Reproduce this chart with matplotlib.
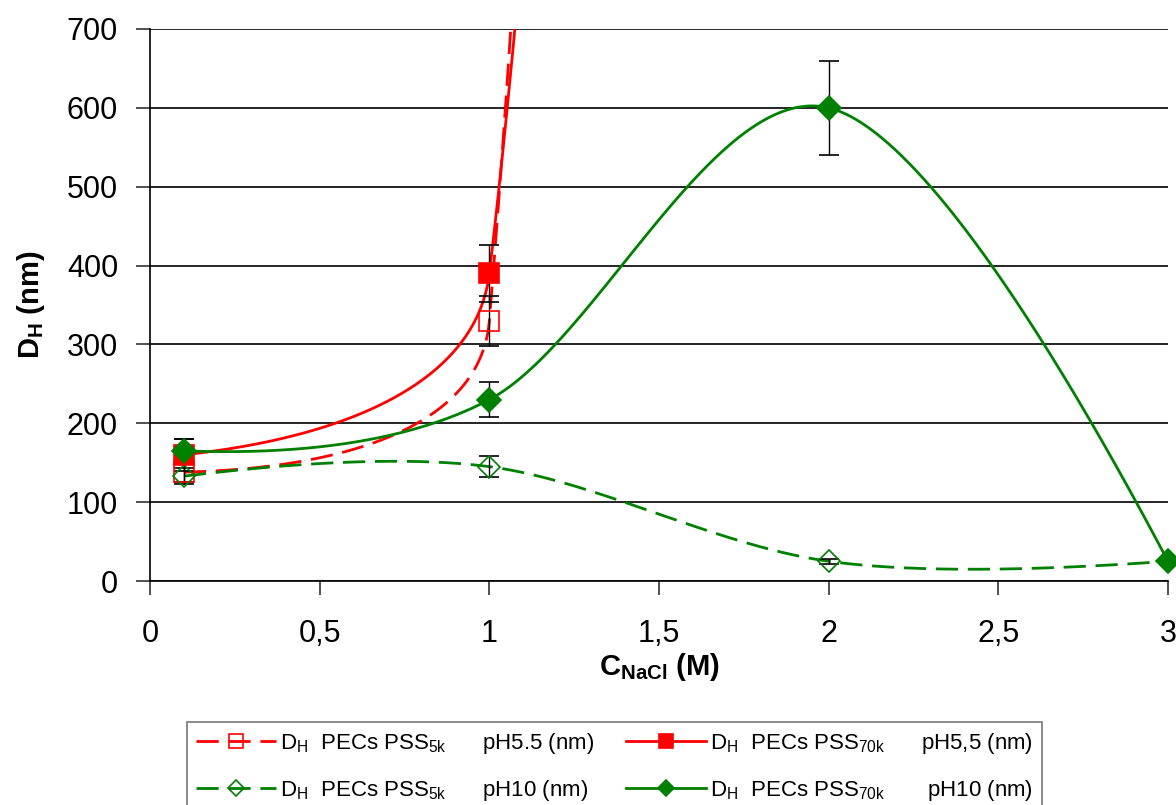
import matplotlib
matplotlib.use('Agg')
import numpy as np
import matplotlib.pyplot as plt
from matplotlib.ticker import FuncFormatter

plt.rcParams['font.family'] = ['Liberation Sans', 'DejaVu Sans']
plt.rcParams['mathtext.fontset'] = 'custom'
plt.rcParams['mathtext.rm'] = 'Liberation Sans'
plt.rcParams['mathtext.bf'] = 'Liberation Sans:bold'

# salt concentration (M)
c_nacl = [0.1, 1, 2, 3]

# PSS5k pH5.5 (last point lies far above the plot)
d_5k_ph55 = [138, 330, 10000]
e_5k_ph55 = [12, 32, 0]
# PSS70k pH5.5
d_70k_ph55 = [160, 390, 7000]
e_70k_ph55 = [20, 36, 0]
# PSS5k pH10
d_5k_ph10 = [133, 145, 25, 25]
e_5k_ph10 = [10, 13, 3, 0]
# PSS70k pH10
d_70k_ph10 = [165, 230, 600, 25]
e_70k_ph10 = [15, 22, 60, 0]

RED = '#ff0000'
GREEN = '#008000'

fig = plt.figure(figsize=(11.76, 8.05), dpi=100)
ax = fig.add_axes([150/1176, 1-581/805, (1168-150)/1176, (581-29)/805])
ax.set_xlim(0, 3)
ax.set_ylim(0, 700)


def clamp(h, L, kmax=0.42):
    n = np.hypot(h[0], h[1])
    if n > L * kmax:
        h = h * (L * kmax / n)
    return h


def unit(v):
    return v / np.hypot(v[0], v[1])


def smooth(x, y, n=300):
    # smoothed line like a spreadsheet chart: catmull-rom bezier in screen space
    p = ax.transData.transform(np.column_stack([x, y]))
    m = len(p)
    out = []
    for i in range(m - 1):
        L = np.hypot(*(p[i+1] - p[i]))
        c1 = p[i] + clamp((p[i+1] - p[i-1]) / 6.0, L) if i > 0 else None
        c2 = p[i+1] - clamp((p[i+2] - p[i]) / 6.0, L) if i + 2 < m else None
        # end points: aim the handle at the other control point
        if c1 is None and c2 is None:
            c1 = p[i] + (p[i+1] - p[i]) / 3.0
            c2 = p[i] + 2 * (p[i+1] - p[i]) / 3.0
        elif c1 is None:
            c1 = p[i] + unit(c2 - p[i]) * L / 6.0
        elif c2 is None:
            c2 = p[i+1] + unit(c1 - p[i+1]) * L / 6.0
        t = np.linspace(0, 1, n)[:, None]
        out.append(((1-t)**3)*p[i] + 3*((1-t)**2)*t*c1 + 3*(1-t)*t**2*c2 + t**3*p[i+1])
    back = ax.transData.inverted().transform(np.vstack(out))
    return back[:, 0], back[:, 1]


series = [
    (d_5k_ph55, e_5k_ph55, RED, 's', 'none', 15, True,
     r'D$_\mathregular{H}$  PECs PSS$_\mathregular{5k}$      pH5.5 (nm)'),
    (d_5k_ph10, e_5k_ph10, GREEN, 'D', 'none', 11, True,
     r'D$_\mathregular{H}$  PECs PSS$_\mathregular{5k}$      pH10 (nm)'),
    (d_70k_ph55, e_70k_ph55, RED, 's', RED, 15, False,
     r'D$_\mathregular{H}$  PECs PSS$_\mathregular{70k}$      pH5,5 (nm)'),
    (d_70k_ph10, e_70k_ph10, GREEN, 'D', GREEN, 12, False,
     r'D$_\mathregular{H}$  PECs PSS$_\mathregular{70k}$       pH10 (nm)'),
]

handles = []
for yv, ev, col, mk, fc, ms, dashed, lab in series:
    xv = c_nacl[:len(yv)]
    sx, sy = smooth(xv, yv)
    ls = (0, (8, 3.5)) if dashed else '-'
    ax.plot(sx, sy, color=col, lw=2, linestyle=ls, zorder=3)
    ax.errorbar(xv, yv, yerr=ev, fmt='none', ecolor='black', elinewidth=1,
                capsize=7, capthick=1.2, zorder=4)
    ax.plot(xv, yv, linestyle='none', marker=mk, markersize=ms,
            markerfacecolor=fc, markeredgecolor=col, markeredgewidth=1.2,
            zorder=5, clip_on=False)
    h, = ax.plot([], [], color=col, lw=2, linestyle=ls, marker=mk,
                 markersize=ms * 0.7, markerfacecolor=fc,
                 markeredgecolor=col, markeredgewidth=1.2, label=lab)
    handles.append(h)

ax.set_yticks(range(0, 701, 100))
ax.set_xticks([0, 0.5, 1, 1.5, 2, 2.5, 3])
ax.xaxis.set_major_formatter(FuncFormatter(lambda v, p: ('%g' % v).replace('.', ',')))
ax.yaxis.grid(True, color='black', lw=1.2)
ax.set_axisbelow(True)
for s in ['top', 'right']:
    ax.spines[s].set_visible(False)
ax.spines['left'].set_linewidth(1.2)
ax.spines['bottom'].set_linewidth(1.2)
ax.tick_params(axis='both', direction='out', length=10, width=1.2,
               labelsize=22, color='#333333')
ax.tick_params(axis='y', pad=13)
ax.tick_params(axis='x', pad=17)

ax.set_ylabel(r'D$_\mathbf{H}$ (nm)', fontsize=21, fontweight='bold', labelpad=14)
ax.set_xlabel(r'C$_\mathbf{NaCl}$ (M)', fontsize=21, fontweight='bold', labelpad=2)

leg = fig.legend(handles=handles, ncol=2, loc='upper left',
                 bbox_to_anchor=(187/1176, 1-722/805), frameon=True,
                 fancybox=False, fontsize=16, handlelength=3.6,
                 columnspacing=1.4, handletextpad=0.2, borderpad=0.4,
                 labelspacing=1.0, borderaxespad=0)
leg.get_frame().set_edgecolor('#555555')
leg.get_frame().set_linewidth(1.2)

fig.savefig('out.png', dpi=100)
